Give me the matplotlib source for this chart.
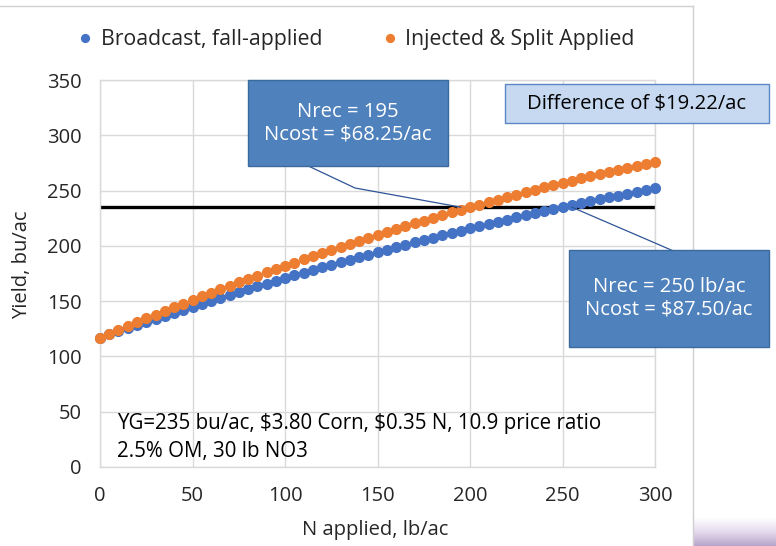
import matplotlib
matplotlib.use("Agg")
import matplotlib.pyplot as plt
from matplotlib.patches import Rectangle
from matplotlib.lines import Line2D
from matplotlib.colors import LinearSegmentedColormap
import numpy as np

plt.rcParams['font.family'] = ['Open Sans', 'DejaVu Sans']
plt.rcParams['text.parse_math'] = False

# ---- data ----
n_applied = [0, 5, 10, 15, 20, 25, 30, 35, 40, 45, 50, 55, 60, 65, 70, 75, 80, 85, 90, 95,
             100, 105, 110, 115, 120, 125, 130, 135, 140, 145, 150, 155, 160, 165, 170, 175,
             180, 185, 190, 195, 200, 205, 210, 215, 220, 225, 230, 235, 240, 245, 250, 255,
             260, 265, 270, 275, 280, 285, 290, 295, 300]
broadcast = [117.0, 119.9, 122.8, 125.6, 128.5, 131.3, 134.1, 136.8, 139.6, 142.3, 145.0,
             147.7, 150.3, 153.0, 155.6, 158.2, 160.7, 163.3, 165.8, 168.3, 170.8, 173.3,
             175.7, 178.1, 180.5, 182.9, 185.2, 187.6, 189.9, 192.1, 194.4, 196.6, 198.9,
             201.1, 203.2, 205.4, 207.5, 209.6, 211.7, 213.8, 215.8, 217.8, 219.8, 221.8,
             223.7, 225.7, 227.6, 229.5, 231.3, 233.2, 235.0, 236.8, 238.6, 240.3, 242.1,
             243.8, 245.5, 247.1, 248.8, 250.4, 252.0]
injected = [117.0, 120.5, 124.0, 127.5, 131.0, 134.4, 137.8, 141.1, 144.4, 147.7, 151.0,
            154.2, 157.4, 160.6, 163.8, 166.9, 170.0, 173.0, 176.0, 179.0, 182.0, 184.9,
            187.8, 190.7, 193.6, 196.4, 199.2, 201.9, 204.6, 207.3, 210.0, 212.6, 215.2,
            217.8, 220.4, 222.9, 225.4, 227.8, 230.2, 232.6, 235.0, 237.3, 239.6, 241.9,
            244.2, 246.4, 248.6, 250.7, 252.8, 254.9, 257.0, 259.0, 261.0, 263.0, 265.0,
            266.9, 268.8, 270.6, 272.4, 274.2, 276.0]
goal_x = [0, 300]
goal_yield = [235, 235]
series_labels = ["Broadcast, fall-applied", "Injected & Split Applied"]
x_ticks = [0, 50, 100, 150, 200, 250, 300]
y_ticks = [0, 50, 100, 150, 200, 250, 300, 350]
nrec_injected = (195, 235)
nrec_broadcast = (255, 235)
box1_text = "Nrec = 195\nNcost = $68.25/ac"
box2_text = "Difference of $19.22/ac"
box3_text = "Nrec = 250 lb/ac\nNcost = $87.50/ac"
note_line1 = "YG=235 bu/ac, $3.80 Corn, $0.35 N, 10.9 price ratio"
note_line2 = "2.5% OM, 30 lb NO3"

W, H = 776, 546
BLUE = "#4472C4"
ORANGE = "#ED7D31"
BOXBLUE = "#4F81BD"
BOXEDGE = "#3A6A9E"
GRID = "#D9D9D9"
TXT = "#262626"

fig = plt.figure(figsize=(W / 100, H / 100), dpi=100)
fig.patch.set_facecolor("white")

def fx(px):
    return px / W

def fy(py):
    return 1 - py / H

ax_l, ax_r, ax_t, ax_b = 100, 655, 80, 467
ax = fig.add_axes([fx(ax_l), fy(ax_b), (ax_r - ax_l) / W, (ax_b - ax_t) / H])

ax.set_xlim(0, 300)
ax.set_ylim(0, 350)
ax.set_xticks(x_ticks)
ax.set_yticks(y_ticks)
ax.grid(True, color=GRID, linewidth=1.0)
ax.set_axisbelow(True)
for s in ax.spines.values():
    s.set_color(GRID)
    s.set_linewidth(1.0)
ax.tick_params(length=0, labelsize=14.5, colors=TXT)
ax.tick_params(axis='y', pad=13)
ax.tick_params(axis='x', pad=14)

ax.plot(goal_x, goal_yield, color="black", linewidth=2.4, zorder=2, solid_capstyle='butt')
ax.plot(n_applied, broadcast, linestyle="none", marker="o", markersize=7.0,
        color=BLUE, label=series_labels[0], zorder=3, clip_on=False)
ax.plot(n_applied, injected, linestyle="none", marker="o", markersize=7.0,
        color=ORANGE, label=series_labels[1], zorder=4, clip_on=False)

ax.set_xlabel("N applied, lb/ac", fontsize=14.5, color=TXT)
ax.set_ylabel("Yield, bu/ac", fontsize=14.5, color=TXT)
ax.xaxis.label.set_va("center")
ax.yaxis.label.set_va("center")
ax.xaxis.set_label_coords((375 - ax_l) / (ax_r - ax_l), -(530 - ax_b) / (ax_b - ax_t))
ax.yaxis.set_label_coords((22 - ax_l) / (ax_r - ax_l), (ax_b - 265) / (ax_b - ax_t))

fig.legend(loc="center", bbox_to_anchor=(fx(357), fy(40)), ncol=2, frameon=False,
           fontsize=15.3, handlelength=0.55, handletextpad=0.45, columnspacing=2.9,
           labelcolor=TXT, markerscale=0.8)

# note text inside plot
ax.text(fx(117), fy(423), note_line1, transform=fig.transFigure, fontsize=14.8,
        color="black", va="center", ha="left")
ax.text(fx(117), fy(452), note_line2, transform=fig.transFigure, fontsize=14.8,
        color="black", va="center", ha="left")

def box(x0, y0, x1, y1, face, edge, text, tcolor, lw=1.0):
    r = Rectangle((fx(x0), fy(y1)), fx(x1) - fx(x0), fy(y0) - fy(y1), transform=fig.transFigure,
                  facecolor=face, edgecolor=edge, linewidth=lw, zorder=10)
    fig.add_artist(r)
    fig.text(fx((x0 + x1) / 2), fy((y0 + y1) / 2), text, ha="center", va="center",
             fontsize=14.6, color=tcolor, zorder=11, linespacing=1.15)

def leader(points_px, end_data):
    ex, ey = ax.transData.transform(end_data)
    xs = [fx(p[0]) for p in points_px] + [ex / W]
    ys = [fy(p[1]) for p in points_px] + [ey / H]
    fig.add_artist(Line2D(xs, ys, transform=fig.transFigure, color="#2F5597",
                          linewidth=0.9, zorder=9))

leader([(302, 163), (355, 188)], nrec_injected)
leader([(685, 256), (655, 243)], nrec_broadcast)

box(248, 80, 448, 166, BOXBLUE, BOXEDGE, box1_text, "white")
box(505, 84, 769, 123, "#C6D9F1", "#5B87C5", box2_text, "black")
box(569, 250, 769, 347, BOXBLUE, BOXEDGE, box3_text, "white")

# chart frame remnants
fig.add_artist(Line2D([0, fx(693)], [fy(6), fy(6)], transform=fig.transFigure,
                      color="#D0D0D0", linewidth=1.0))
fig.add_artist(Line2D([fx(693), fx(693)], [fy(6), 0], transform=fig.transFigure,
                      color="#D0D0D0", linewidth=1.0))

# faint purple gradient at the bottom-right corner (slide background)
gax = fig.add_axes([fx(694), 0, fx(776) - fx(694), fy(518)])
gax.axis("off")
cmap = LinearSegmentedColormap.from_list("fade", ["#FFFFFF", "#E6DCEE", "#B9A5CC"])
gax.imshow(np.linspace(0, 1, 50).reshape(-1, 1), aspect="auto", cmap=cmap,
           extent=[0, 1, 0, 1], origin="upper")

fig.savefig("out.png", dpi=100)
